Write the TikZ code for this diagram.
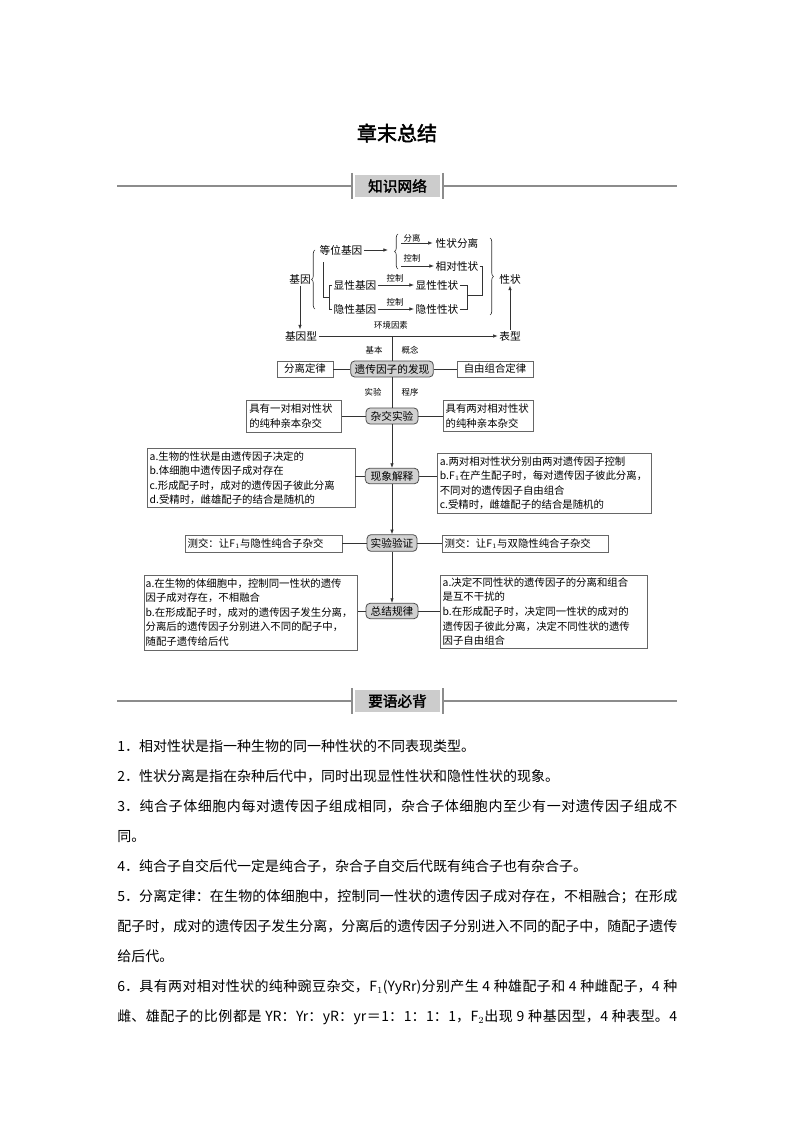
\documentclass[tikz,border=0pt]{standalone}
\usepackage{fontspec}
\setmainfont[AutoFakeBold=2]{Noto Sans CJK SC}
\usetikzlibrary{decorations.pathreplacing,arrows.meta}
\XeTeXlinebreaklocale "zh"
\XeTeXlinebreakskip=0pt plus 1pt
\begin{document}
\begin{tikzpicture}[x=0.75pt,y=-0.75pt,
  every node/.style={inner sep=1pt},
  arr/.style={-{Latex[length=3.5pt,width=2.6pt]}},
  ln/.style={draw=black!80,line width=0.5pt},
  lbl/.style={font=\fontsize{8}{10}\selectfont},
  sml/.style={font=\fontsize{6.3}{7}\selectfont,inner sep=0.5pt},
  brc/.style={ln,decorate,decoration={brace,amplitude=2.6pt}},
  cbox/.style={draw=black!70,fill=black!18,rounded corners=3pt,line width=0.6pt,
    font=\fontsize{8}{10}\selectfont,minimum height=12pt,inner sep=1pt},
  sbox/.style={draw=black!60,line width=0.6pt,font=\fontsize{7.8}{10.9}\selectfont,
    align=left,inner xsep=2pt,inner ysep=2pt},
  hdrbox/.style={fill=black!20,minimum width=63.75pt,minimum height=16.5pt,
    font=\fontsize{11}{12}\selectfont\bfseries,inner sep=0pt},
  hdrline/.style={draw=black!45,line width=0.8pt}
]
\useasboundingbox (0,0) rectangle (794,1123);
\fill[white] (0,0) rectangle (794,1123);

% title
\node[font=\fontsize{15}{16}\selectfont\bfseries] (title) at (397,133) {章末总结};

% header 1
\node[hdrbox] (h1) at (397.5,186) {知识网络};
\coordinate (h1l) at (117,186); \coordinate (h1r) at (677,186);
\draw[hdrline] (h1l) -- (352,186);
\draw[hdrline] (443,186) -- (h1r);
\draw[hdrline] (352,173) -- (352,199);
\draw[hdrline] (443,173) -- (443,199);

% ---------- top cluster ----------
\node[lbl] (jy) at (300,279) {基因};
\node[lbl] (dw) at (341,250) {等位基因};
\node[lbl,inner sep=2pt] (xzfl) at (457,243) {性状分离};
\node[lbl] (xdxz) at (457,266) {相对性状};
\node[lbl] (xxjy) at (355,285) {显性基因};
\node[lbl] (yxjy) at (355,309) {隐性基因};
\node[lbl] (xxxz) at (437,285) {显性性状};
\node[lbl] (yxxz) at (437,309) {隐性性状};
\node[lbl] (xz) at (510,279) {性状};
\node[lbl] (jyx) at (301,336) {基因型};
\node[lbl] (bx) at (510,336) {表型};

\node[sml] (fl1) at (412,238) {分离};
\node[sml] (kz1) at (412,258) {控制};
\node[sml] (kz2) at (395,278) {控制};
\node[sml] (kz3) at (395,302) {控制};
\node[sml] (hj) at (391,325) {环境因素};

% braces
\draw[brc] (315,309) -- (315,250);
\draw[brc] (398,269) -- (398,234);
\draw[brc] (490,238) -- (490,315);

\coordinate (dwend) at (388,250);
\draw[ln,arr] (dw) -- (dwend);
\coordinate (a1) at (401,243);
\coordinate (a2) at (401,266);
\draw[ln,arr] (a1) -- (xzfl.west);
\draw[ln,arr] (a2) -- (xdxz.west);
\draw[ln,arr] (xxjy) -- (xxxz);
\draw[ln,arr] (yxjy) -- (yxxz);

% left hook
\coordinate (h1a) at (323,262);
\coordinate (h1b) at (323,297);
\coordinate (h1c) at (329,297);
\draw[ln] (h1a) -- (h1b) -- (h1c);
\draw[ln] (xxjy.west) -| (h1c);
\draw[ln] (yxjy.west) -| (h1c);

% right merge
\coordinate (r1) at (482,266);
\coordinate (r2) at (482,295);
\coordinate (r3) at (467,295);
\draw[ln] (xdxz.east) -- (r1) -- (r2) -- (r3);
\draw[ln] (xxxz.east) -| (r3);
\draw[ln] (yxxz.east) -| (r3);

\draw[ln,arr] (jy.south) -- (jyx.north -| jy.south);
\draw[ln,arr] (jyx) -- (bx);
\draw[ln,arr] (bx.north) -- (xz.south);

% ---------- central chain ----------
\coordinate (jn) at (392,336);
\node[cbox,minimum width=62pt] (fx) at (392,369) {遗传因子的发现};
\node[cbox,minimum width=39pt] (zj) at (392,416) {杂交实验};
\node[cbox,minimum width=40pt,minimum height=11.5pt] (xj) at (392,476) {现象解释};
\node[cbox,minimum width=37.5pt,minimum height=12.5pt] (yz) at (392,543) {实验验证};
\node[cbox,minimum width=39pt,minimum height=11.5pt] (zg) at (392,611) {总结规律};

\node[sml] (jb) at (374,350) {基本};
\node[sml] (gn) at (410,350) {概念};
\node[sml] (sy) at (373,392) {实验};
\node[sml] (cx) at (410,392) {程序};

\draw[ln] (jn) -- (fx.north);
\draw[ln] (fx.south) -- (zj.north);
\draw[ln,arr] (zj.south) -- (xj.north);
\draw[ln,arr] (xj.south) -- (yz.north);
\draw[ln,arr] (yz.south) -- (zg.north);

% side boxes
\node[sbox,align=center,minimum width=42pt,minimum height=12pt] (fldl) at (305,369) {分离定律};
\node[sbox,align=center,minimum width=57pt,minimum height=12pt] (zydl) at (495,369) {自由组合定律};
\draw[ln] (fldl) -- (fx);
\draw[ln] (fx) -- (zydl);

\node[sbox,text width=67pt,minimum height=24pt] (yd) at (294,416) {具有一对相对性状\\的纯种亲本杂交};
\node[sbox,text width=63.5pt,minimum height=23.25pt] (ld) at (488,416) {具有两对相对性状\\的纯种亲本杂交};
\draw[ln] (yd) -- (zj);
\draw[ln] (zj) -- (ld);

\node[sbox,text width=152pt,minimum height=42pt] (xjl) at (251,478) {a.生物的性状是由遗传因子决定的\\b.体细胞中遗传因子成对存在\\c.形成配子时，成对的遗传因子彼此分离\\d.受精时，雌雄配子的结合是随机的};
\node[sbox,text width=157pt,minimum height=45pt] (xjr) at (544.5,483) {a.两对相对性状分别由两对遗传因子控制\\b.F$_1$在产生配子时，每对遗传因子彼此分离，\\不同对的遗传因子自由组合\\c.受精时，雌雄配子的结合是随机的};
\draw[ln] (xjl.east |- xj) -- (xj);
\draw[ln] (xj) -- (xjr.west |- xj);

\node[sbox,text width=113.75pt,minimum height=12.75pt] (yzl) at (263.5,543.5) {测交：让F$_1$与隐性纯合子杂交};
\node[sbox,text width=120.5pt,minimum height=12.75pt] (yzr) at (525,543.5) {测交：让F$_1$与双隐性纯合子杂交};
\draw[ln] (yzl.east |- yz) -- (yz);
\draw[ln] (yz) -- (yzr.west |- yz);

\node[sbox,inner xsep=1pt,text width=158pt,minimum height=56.25pt] (zgl) at (251,612.5) {a.在生物的体细胞中，控制同一性状的遗传\\因子成对存在，不相融合\\b.在形成配子时，成对的遗传因子发生分离，\\分离后的遗传因子分别进入不同的配子中，\\随配子遗传给后代};
\node[sbox,text width=151.25pt,minimum height=54.75pt] (zgr) at (543.5,611.5) {a.决定不同性状的遗传因子的分离和组合\\是互不干扰的\\b.在形成配子时，决定同一性状的成对的\\遗传因子彼此分离，决定不同性状的遗传\\因子自由组合};
\draw[ln] (zgl.east |- zg) -- (zg);
\draw[ln] (zg) -- (zgr.west |- zg);

% header 2
\node[hdrbox] (h2) at (397.5,701) {要语必背};
\coordinate (h2l) at (117,701); \coordinate (h2r) at (677,701);
\draw[hdrline] (h2l) -- (352,701);
\draw[hdrline] (443,701) -- (h2r);
\draw[hdrline] (352,688) -- (352,714);
\draw[hdrline] (443,688) -- (443,714);

% body text
\node[anchor=north west,text width=420pt,align=justify,inner sep=0pt,
  font=\fontsize{10.5}{22.5}\selectfont] (body) at (117,739) {\parindent=0pt
1．相对性状是指一种生物的同一种性状的不同表现类型。\par
2．性状分离是指在杂种后代中，同时出现显性性状和隐性性状的现象。\par
3．纯合子体细胞内每对遗传因子组成相同，杂合子体细胞内至少有一对遗传因子组成不\linebreak 同。\par
4．纯合子自交后代一定是纯合子，杂合子自交后代既有纯合子也有杂合子。\par
5．分离定律：在生物的体细胞中，控制同一性状的遗传因子成对存在，不相融合；在形成\linebreak 配子时，成对的遗传因子发生分离，分离后的遗传因子分别进入不同的配子中，随配子遗传\linebreak 给后代。\par
6．具有两对相对性状的纯种豌豆杂交，F$_1$(YyRr)分别产生 4 种雄配子和 4 种雌配子，4 种\linebreak 雌、雄配子的比例都是 YR：Yr：yR：yr＝1：1：1：1，F$_2$出现 9 种基因型，4 种表型。4\linebreak\par};
\end{tikzpicture}
\end{document}
